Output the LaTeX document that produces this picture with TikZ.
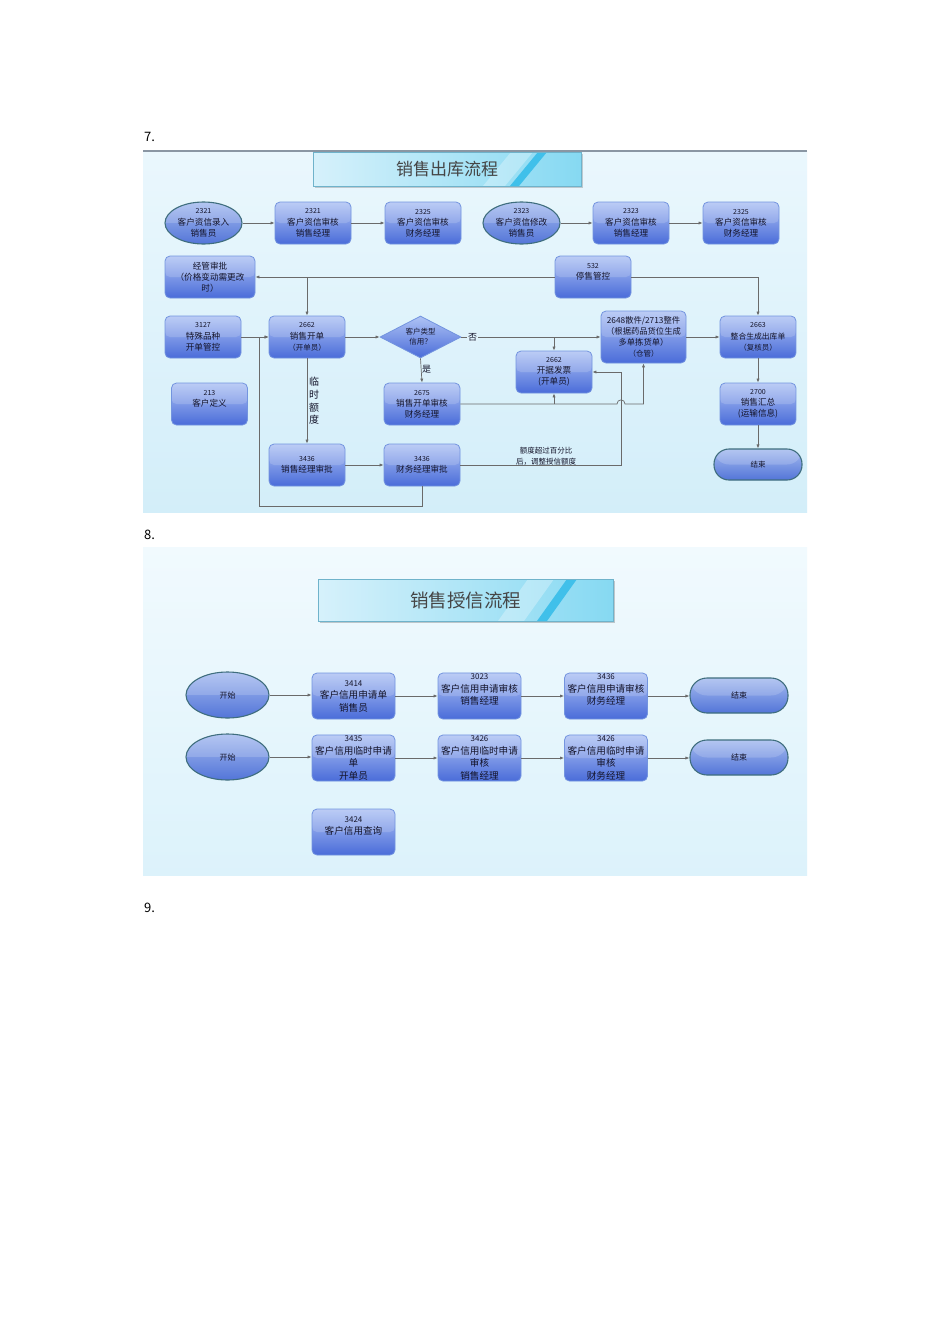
\documentclass[tikz,border=0pt]{standalone}
\usepackage{fontspec}
\setmainfont{Noto Sans CJK SC}
\usetikzlibrary{shapes.geometric,arrows.meta}
\definecolor{boxtop}{HTML}{AFC3F4}
\definecolor{boxbot}{HTML}{4A6CD9}
\definecolor{boxedge}{HTML}{7394DF}
\definecolor{elltop}{HTML}{A5BBEF}
\definecolor{ellbot}{HTML}{5375D8}
\definecolor{elledge}{HTML}{3F6E7E}
\definecolor{linegray}{HTML}{6A6A6A}
\definecolor{txt}{HTML}{14142A}
\definecolor{ttl}{HTML}{454545}
\definecolor{stripe}{HTML}{40C0EA}
\definecolor{HTML6FB3CB}{HTML}{6FB3CB}
\definecolor{HTMLD6F1FB}{HTML}{D6F1FB}
\definecolor{HTML86D9F2}{HTML}{86D9F2}
\definecolor{pantop}{HTML}{EAF7FD}
\definecolor{panbot}{HTML}{D3EEF9}
\definecolor{pan2top}{HTML}{F1FAFE}
\definecolor{pan2bot}{HTML}{DCF2FB}
\definecolor{topline}{HTML}{8A96A3}
\newcommand{\numtxt}[1]{{\fontsize{7}{8}\selectfont #1}}
\newcommand{\numtxtb}[1]{{\fontsize{8}{9}\selectfont #1}}
\tikzset{
  conn/.style={draw=linegray, line width=0.7pt, -{Latex[length=4pt,width=3.2pt]}},
  gloss/.style={path picture={\fill[white,opacity=0.16] (path picture bounding box.north west) rectangle (path picture bounding box.east);}},
  pbox/.style={rectangle, rounded corners=5pt, draw=boxedge, line width=0.8pt,
    top color=boxtop, bottom color=boxbot, gloss, minimum width=76pt, minimum height=42pt,
    inner sep=1pt, align=center, text=txt, font=\fontsize{8.6}{11.2}\selectfont},
  pell/.style={ellipse, draw=elledge, line width=1.1pt, top color=elltop, bottom color=ellbot, gloss,
    minimum width=77pt, minimum height=42pt, inner sep=0pt, align=center, text=txt,
    font=\fontsize{8.6}{11.2}\selectfont},
  pend/.style={rectangle, rounded corners=15pt, draw=elledge, line width=1.1pt, top color=elltop,
    bottom color=ellbot, gloss, minimum width=88pt, minimum height=31pt, inner sep=0pt, text=txt,
    font=\fontsize{7.5}{9}\selectfont},
  pdia/.style={diamond, aspect=1.93, draw=boxedge, line width=0.8pt, top color=boxtop, bottom color=boxbot,
    minimum width=81pt, minimum height=42pt, inner sep=0pt, align=center, text=txt,
    font=\fontsize{7.5}{10}\selectfont},
  qbox/.style={pbox, minimum width=83pt, minimum height=46pt, font=\fontsize{9.6}{12.5}\selectfont},
  qell/.style={pell, minimum width=83pt, minimum height=46pt, font=\fontsize{8}{10}\selectfont},
  qend/.style={pend, rounded corners=17pt, minimum width=98pt, minimum height=35pt, font=\fontsize{8}{10}\selectfont},
  titlebox/.style={rectangle, draw=HTML6FB3CB, line width=0.8pt, left color=HTMLD6F1FB, right color=HTML86D9F2,
    text=ttl, inner sep=0pt},
  lbl/.style={text=txt, inner sep=1pt},
}
\begin{document}
\begin{tikzpicture}[x=1pt,y=-1pt]
\useasboundingbox (0,0) rectangle (950,1344);
\fill[white] (0,0) rectangle (950,1344);

% section numbers
\node[anchor=west, font=\fontsize{13}{15}\selectfont, inner sep=0pt] (n7) at (144,137) {7.};
\node[anchor=west, font=\fontsize{13}{15}\selectfont, inner sep=0pt] (n8) at (144,535) {8.};
\node[anchor=west, font=\fontsize{13}{15}\selectfont, inner sep=0pt] (n9) at (144,908) {9.};

% ============ panel 7 ============
\shade[top color=pantop, bottom color=panbot] (143,151) rectangle (807,512);
\draw[line width=2pt, color=topline] (143,151) -- (807,151);

\fill[black, opacity=0.18] (315,154) rectangle (583,188);
\node[titlebox, minimum width=268pt, minimum height=34pt, font=\fontsize{17}{20}\selectfont,
  path picture={
    \fill[white,opacity=0.3] ([xshift=170pt]path picture bounding box.south west) -- ++(22,0) -- ([xshift=220pt]path picture bounding box.north west) -- ++(-22,0) -- cycle;
    \fill[stripe] ([xshift=197pt]path picture bounding box.south west) -- ++(9,0) -- ([xshift=234pt]path picture bounding box.north west) -- ++(-9,0) -- cycle;}]
  (T1) at (447,169) {\raisebox{2pt}{销售出库流程}\hspace{4pt}};

\node[pell] (E1) at (203.5,223) {\numtxt{2321}\\客户资信录入\\销售员};
\node[pbox] (B1) at (313,223) {\numtxt{2321}\\客户资信审核\\销售经理};
\node[pbox] (B2) at (423,223) {\numtxt{2325}\\客户资信审核\\财务经理};
\node[pell] (E2) at (521.5,223) {\numtxt{2323}\\客户资信修改\\销售员};
\node[pbox] (B3) at (631,223) {\numtxt{2323}\\客户资信审核\\销售经理};
\node[pbox] (B4) at (741,223) {\numtxt{2325}\\客户资信审核\\财务经理};
\node[pbox, minimum width=90pt] (B5) at (210,277) {经管审批\\（价格变动需更改\\时）};
\node[pbox] (B6) at (593,277) {\numtxt{532}\\停售管控\\\phantom{停}};
\node[pbox] (B7) at (203,337) {\numtxt{3127}\\特殊品种\\开单管控};
\node[pbox] (B8) at (307,337) {\numtxt{2662}\\销售开单\\{\fontsize{7.5}{9}\selectfont （开单员）}};
\node[pdia] (D1) at (420.5,337) {客户类型\\信用？};
\node[pbox, minimum width=85pt, minimum height=52pt, font=\fontsize{8.3}{11}\selectfont] (B9) at (643.5,337)
  {2648散件/2713整件\\（根据药品货位生成\\多单拣货单）\\{\fontsize{7.5}{9}\selectfont （仓管）}};
\node[pbox] (B10) at (758,337) {\numtxt{2663}\\{\fontsize{7.8}{9}\selectfont 整合生成出库单}\\{\fontsize{7.5}{9}\selectfont （复核员）}};
\node[pbox] (B11) at (554,372) {\numtxt{2662}\\开据发票\\(开单员)};
\node[pbox] (B12) at (209.5,404) {\numtxt{213}\\客户定义\\\phantom{客}};
\node[pbox] (B13) at (422,404) {\numtxt{2675}\\销售开单审核\\财务经理};
\node[pbox] (B14) at (758,404) {\numtxt{2700}\\销售汇总\\(运输信息)};
\node[pbox] (B15) at (307,465) {\numtxt{3436}\\销售经理审批};
\node[pbox] (B16) at (422,465) {\numtxt{3436}\\财务经理审批};
\node[pend] (End1) at (758,464.5) {结束};

\coordinate (lb) at (259,506);
\coordinate (k) at (621,372);

\draw[conn] (E1) -- (B1);
\draw[conn] (B1) -- (B2);
\draw[conn] (E2) -- (B3);
\draw[conn] (B3) -- (B4);
\draw[conn] (B6.west) -- (B5.east);
\draw[conn] (B8.north |- B5.east) -- (B8.north);
\draw[conn] (B6.east) -| (B10.north);
\draw[conn] (B7.east) -- (B8.west);
\draw[conn] (B16.south) |- (lb) |- (B8.west);
\draw[conn] (B8.east) -- (D1.west);
\draw[conn] (D1.east) -- node[pos=0.08, lbl, fill=pantop!60!panbot, font=\fontsize{9}{10}\selectfont] {否} (B9.west);
\draw[conn] (B11.north |- D1.east) -- (B11.north);
\draw[conn] (D1.south) -- node[pos=0.45, right, lbl, inner sep=0.5pt, font=\fontsize{9}{10}\selectfont] {是} (B13.north);
\draw[conn] (B8.south) -- (B15.north);
\node[lbl, align=center, font=\fontsize{10}{12.7}\selectfont] (tmp) at (314,401) {临\\时\\额\\度};
\draw[conn] (B15) -- (B16);
\draw[conn] (B13.east) -- (617,404) .. controls (617,398.5) and (625,398.5) .. (625,404) -| (B9.south);
\draw[conn] (B11.south |- B13.east) -- (B11.south);
\draw[conn] (B16.east) -| (k) -- (B11.east);
\node[lbl, align=center, font=\fontsize{7.5}{10.5}\selectfont] (q) at (546,456) {额度超过百分比\\后，调整授信额度};
\draw[conn] (B9) -- (B10);
\draw[conn] (B10) -- (B14);
\draw[conn] (B14) -- (End1);

% ============ panel 8 ============
\shade[top color=pan2top, bottom color=pan2bot] (143,547) rectangle (807,875);
\fill[black, opacity=0.2] (320,581) rectangle (615,623);
\node[titlebox, minimum width=295pt, minimum height=42pt, font=\fontsize{18.5}{22}\selectfont,
  path picture={
    \fill[white,opacity=0.3] ([xshift=180pt]path picture bounding box.south west) -- ++(26,0) -- ([xshift=236pt]path picture bounding box.north west) -- ++(-26,0) -- cycle;
    \fill[stripe] ([xshift=219pt]path picture bounding box.south west) -- ++(10,0) -- ([xshift=259pt]path picture bounding box.north west) -- ++(-10,0) -- cycle;}]
  (T2) at (465.5,600) {销售授信流程};

\node[qell] (S1) at (227.5,695) {开始};
\node[qbox] (C1) at (353.5,696) {\numtxtb{3414}\\客户信用申请单\\销售员};
\node[qbox] (C2) at (479.5,696) {\numtxtb{3023}\\客户信用申请审核\\销售经理\\\phantom{销}};
\node[qbox] (C3) at (606,696) {\numtxtb{3436}\\客户信用申请审核\\财务经理\\\phantom{财}};
\node[qend] (End2) at (739,695.5) {结束};
\node[qell] (S2) at (227.5,757) {开始};
\node[qbox] (C4) at (353.5,758) {\numtxtb{3435}\\客户信用临时申请\\单\\开单员};
\node[qbox] (C5) at (479.5,758) {\numtxtb{3426}\\客户信用临时申请\\审核\\销售经理};
\node[qbox] (C6) at (606,758) {\numtxtb{3426}\\客户信用临时申请\\审核\\财务经理};
\node[qend] (End3) at (739,757.5) {结束};
\node[qbox] (C7) at (353.5,832) {\numtxtb{3424}\\客户信用查询\\\phantom{客}};

\draw[conn] (S1.east) -- (S1.east -| C1.west);
\draw[conn] (C1) -- (C2);
\draw[conn] (C2) -- (C3);
\draw[conn] (C3.east) -- (C3.east -| End2.west);
\draw[conn] (S2.east) -- (S2.east -| C4.west);
\draw[conn] (C4) -- (C5);
\draw[conn] (C5) -- (C6);
\draw[conn] (C6.east) -- (C6.east -| End3.west);
\end{tikzpicture}
\end{document}
